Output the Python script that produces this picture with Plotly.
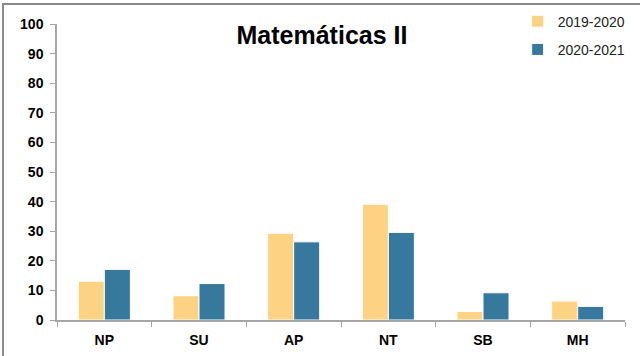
import plotly.graph_objects as go

categories = ["NP", "SU", "AP", "NT", "SB", "MH"]
series_2019 = [13.1, 8.2, 29.3, 39.1, 2.9, 6.4]
series_2020 = [17.1, 12.3, 26.4, 29.6, 9.2, 4.6]
series_names = ["2019-2020", "2020-2021"]
y_ticks = [0, 10, 20, 30, 40, 50, 60, 70, 80, 90, 100]

COL_Y = "#FDD383"
COL_B = "#37799C"
FONT = "Liberation Sans, Arial, sans-serif"

fig = go.Figure()
fig.add_trace(go.Bar(x=categories, y=series_2019, name=series_names[0],
                     marker=dict(color=COL_Y, line=dict(color="white", width=1)),
                     legendgroup="a"))
fig.add_trace(go.Bar(x=categories, y=series_2020, name=series_names[1],
                     marker=dict(color=COL_B, line=dict(color="white", width=1)),
                     legendgroup="b"))

fig.update_layout(
    width=640, height=356,
    margin=dict(l=57, r=15, t=24, b=36, autoexpand=False),
    paper_bgcolor="white", plot_bgcolor="white",
    barmode="group", bargap=0.45, bargroupgap=0.0,
    title=dict(text="<b>Matemáticas II</b>", x=(322 - 57) / 568, xref="paper",
               xanchor="center",
               y=1 - 35 / 356, yanchor="middle",
               font=dict(family=FONT, size=25, color="black")),
    legend=dict(x=0.811, y=1.062, xanchor="left", yanchor="top",
                font=dict(family=FONT, size=14, color="#222"),
                tracegroupgap=7, bgcolor="rgba(0,0,0,0)"),
    showlegend=True,
    shapes=[dict(type="rect", xref="paper", yref="paper",
                 x0=(3 - 57) / 568, x1=1.2, y0=-0.3, y1=1 + 20 / 296,
                 line=dict(color="#8a8a8a", width=2), layer="below")],
)
fig.update_xaxes(showline=True, linecolor="#a6a6a6", linewidth=1.5,
                 ticks="outside", tickson="boundaries", ticklen=5, tickcolor="#a6a6a6",
                 showgrid=False, automargin=False,
                 tickfont=dict(family=FONT, size=14, color="black", weight="bold"),
                 ticklabelstandoff=6)
fig.update_yaxes(range=[0, 100], tickvals=y_ticks, showline=True, linecolor="#a6a6a6",
                 linewidth=1.5, ticks="outside", ticklen=5, tickcolor="#a6a6a6",
                 showgrid=False, zeroline=False, automargin=False,
                 tickfont=dict(family=FONT, size=14, color="black", weight="bold"),
                 ticklabelstandoff=4)

fig.write_html("out.html", config={"displayModeBar": False},
               post_script="document.body.style.margin='0px';document.body.style.overflow='hidden';")
